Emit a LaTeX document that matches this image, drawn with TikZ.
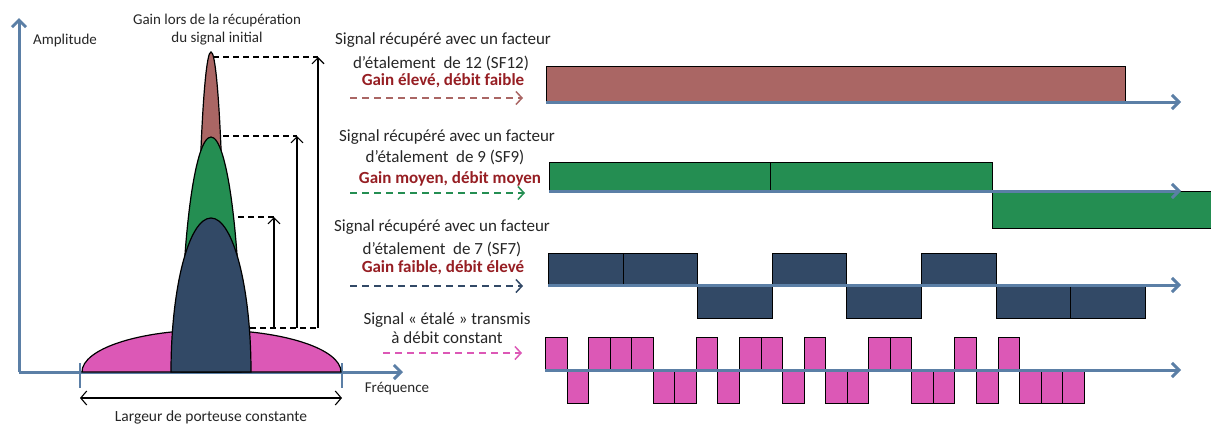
\documentclass[tikz,border=0pt]{standalone}
\usepackage{fontspec}
\setmainfont{Carlito}
\usetikzlibrary{arrows.meta}

\definecolor{axe}{RGB}{91,127,166}
\definecolor{brique}{RGB}{170,102,100}
\definecolor{vert}{RGB}{36,142,82}
\definecolor{marine}{RGB}{50,73,102}
\definecolor{rose}{RGB}{220,88,182}
\definecolor{bordeaux}{RGB}{150,30,35}

\tikzset{
  axe/.style={draw=axe, line width=3pt, -{Straight Barb[length=7pt,width=14pt]}},
  pulse/.style={draw=black, line width=1pt},
  pic/.style={draw=black, line width=1.2pt},
  fleche/.style={line width=1.5pt, dash pattern=on 7pt off 5pt, -{Straight Barb[length=6pt,width=13pt]}},
  gain/.style={line width=1.1pt, -{Straight Barb[length=6pt,width=12pt]}},
  repere/.style={line width=1.1pt, dash pattern=on 6pt off 4pt},
  etiq/.style={font=\fontsize{17}{21}\selectfont, text=black!85, align=center, inner sep=0pt},
  debit/.style={font=\fontsize{17}{21}\selectfont\bfseries, text=bordeaux, inner sep=0pt},
  petit/.style={font=\fontsize{15}{18}\selectfont, text=black!85, align=center, inner sep=0pt}
}

\begin{document}
\begin{tikzpicture}[x=1pt, y=-1pt]
\useasboundingbox (0,0) rectangle (1211,426);

% spectre
\draw[axe] (19,372) -- (19,18);
\draw[axe] (19,372) -- (403,372);
\draw[draw=axe, line width=2.5pt] (80,363) -- (80,388);
\draw[draw=axe, line width=2.5pt] (342,363) -- (342,388);

\draw[pic, fill=rose] (82,372) .. controls (82,349) and (139,330) .. (211,330)
  .. controls (283,330) and (341,349) .. (341,372) -- cycle;
\draw[pic, fill=brique] (197,372) .. controls (197,195) and (203.3,52) .. (211,52)
  .. controls (218.7,52) and (225,195) .. (225,372) -- cycle;
\draw[pic, fill=vert] (181,372) .. controls (181,242) and (194.4,137) .. (211,137)
  .. controls (227.6,137) and (241,242) .. (241,372) -- cycle;
\draw[pic, fill=marine] (171,372) .. controls (171,287) and (189,218) .. (211,218)
  .. controls (233,218) and (251,287) .. (251,372) -- cycle;

% niveaux de gain
\coordinate (sommet12) at (213,57);
\coordinate (sommet9) at (223,136);
\coordinate (sommet7) at (238,217);
\coordinate (base) at (250,328);
\coordinate (niv12) at (318,57);
\coordinate (niv9) at (297,136);
\coordinate (niv7) at (274,217);
\draw[repere] (sommet12) -- (niv12);
\draw[repere] (sommet9) -- (niv9);
\draw[repere] (sommet7) -- (niv7);
\draw[repere] (base) -- (318,328);
\draw[gain] (niv12 |- base) -- (niv12);
\draw[gain] (niv9 |- base) -- (niv9);
\draw[gain] (niv7 |- base) -- (niv7);

\coordinate (gl) at (80,398);
\coordinate (gr) at (342,398);
\draw[line width=1.1pt, {Straight Barb[length=6pt,width=14pt]}-{Straight Barb[length=6pt,width=14pt]}] (gl) -- (gr);

\node[petit, anchor=west] (ampl) at (33,40) {Amplitude};
\node[petit] (freq) at (397,389) {Fréquence};
\node[petit] (titre) at (217,30) {Gain lors de la récupération\\du signal initial};
\node[font=\fontsize{15.5}{18}\selectfont, text=black!85, inner sep=0pt] (larg) at (211,417) {Largeur de porteuse constante};

% textes des signaux
\node[etiq] (sf12a) at (443,40) {Signal récupéré avec un facteur};
\node[etiq] (sf12b) at (441,63) {d’étalement \ de 12 (SF12)};
\node[debit] (sf12c) at (443,81) {Gain élevé, débit faible};
\node[etiq] (sf9a) at (447,137) {Signal récupéré avec un facteur};
\node[etiq] (sf9b) at (445,157) {d’étalement \ de 9 (SF9)};
\node[debit] (sf9c) at (450,179) {Gain moyen, débit moyen};
\node[etiq] (sf7a) at (442,227) {Signal récupéré avec un facteur};
\node[etiq] (sf7b) at (442,249) {d’étalement \ de 7 (SF7)};
\node[debit] (sf7c) at (443,268) {Gain faible, débit élevé};
\node[etiq] (txa) at (447,320) {Signal « étalé » transmis};
\node[etiq] (txb) at (447,338) {à débit constant};

\coordinate (d12) at (350,98);  \coordinate (f12) at (523,98);
\coordinate (d9) at (350,193);  \coordinate (f9) at (525,193);
\coordinate (d7) at (350,286);  \coordinate (f7) at (523,286);
\coordinate (dtx) at (383,353); \coordinate (ftx) at (522,353);
\draw[fleche, brique] (d12) -- (f12);
\draw[fleche, vert] (d9) -- (f9);
\draw[fleche, marine] (d7) -- (f7);
\draw[fleche, rose] (dtx) -- (ftx);

% SF12
\draw[pulse, fill=brique] (546,66) rectangle (1125,102);
\draw[axe] (546,102) -- (1181,102);

% SF9
\draw[pulse, fill=vert] (549,162) rectangle (770,191);
\draw[pulse, fill=vert] (770,162) rectangle (992,191);
\draw[pulse, fill=vert] (992,191) rectangle (1216,228);
\draw[axe] (549,191) -- (1181,191);

% SF7
\foreach \i in {1,2,4,6}
  \draw[pulse, fill=marine] ({548.5+(\i-1)*74.6},253) rectangle ++(74.6,32);
\foreach \i in {3,5,7,8}
  \draw[pulse, fill=marine] ({548.5+(\i-1)*74.6},285) rectangle ++(74.6,33);
\draw[axe] (548,285) -- (1181,285);

% signal etale
\foreach \i in {1,3,4,5,8,10,11,13,16,17,20,22}
  \draw[pulse, fill=rose] ({545.5+(\i-1)*21.55},337) rectangle ++(21.55,33);
\foreach \i in {2,6,7,9,12,14,15,18,19,21,23,24,25}
  \draw[pulse, fill=rose] ({545.5+(\i-1)*21.55},370) rectangle ++(21.55,33);
\draw[axe] (545,370) -- (1181,370);
\end{tikzpicture}
\end{document}
